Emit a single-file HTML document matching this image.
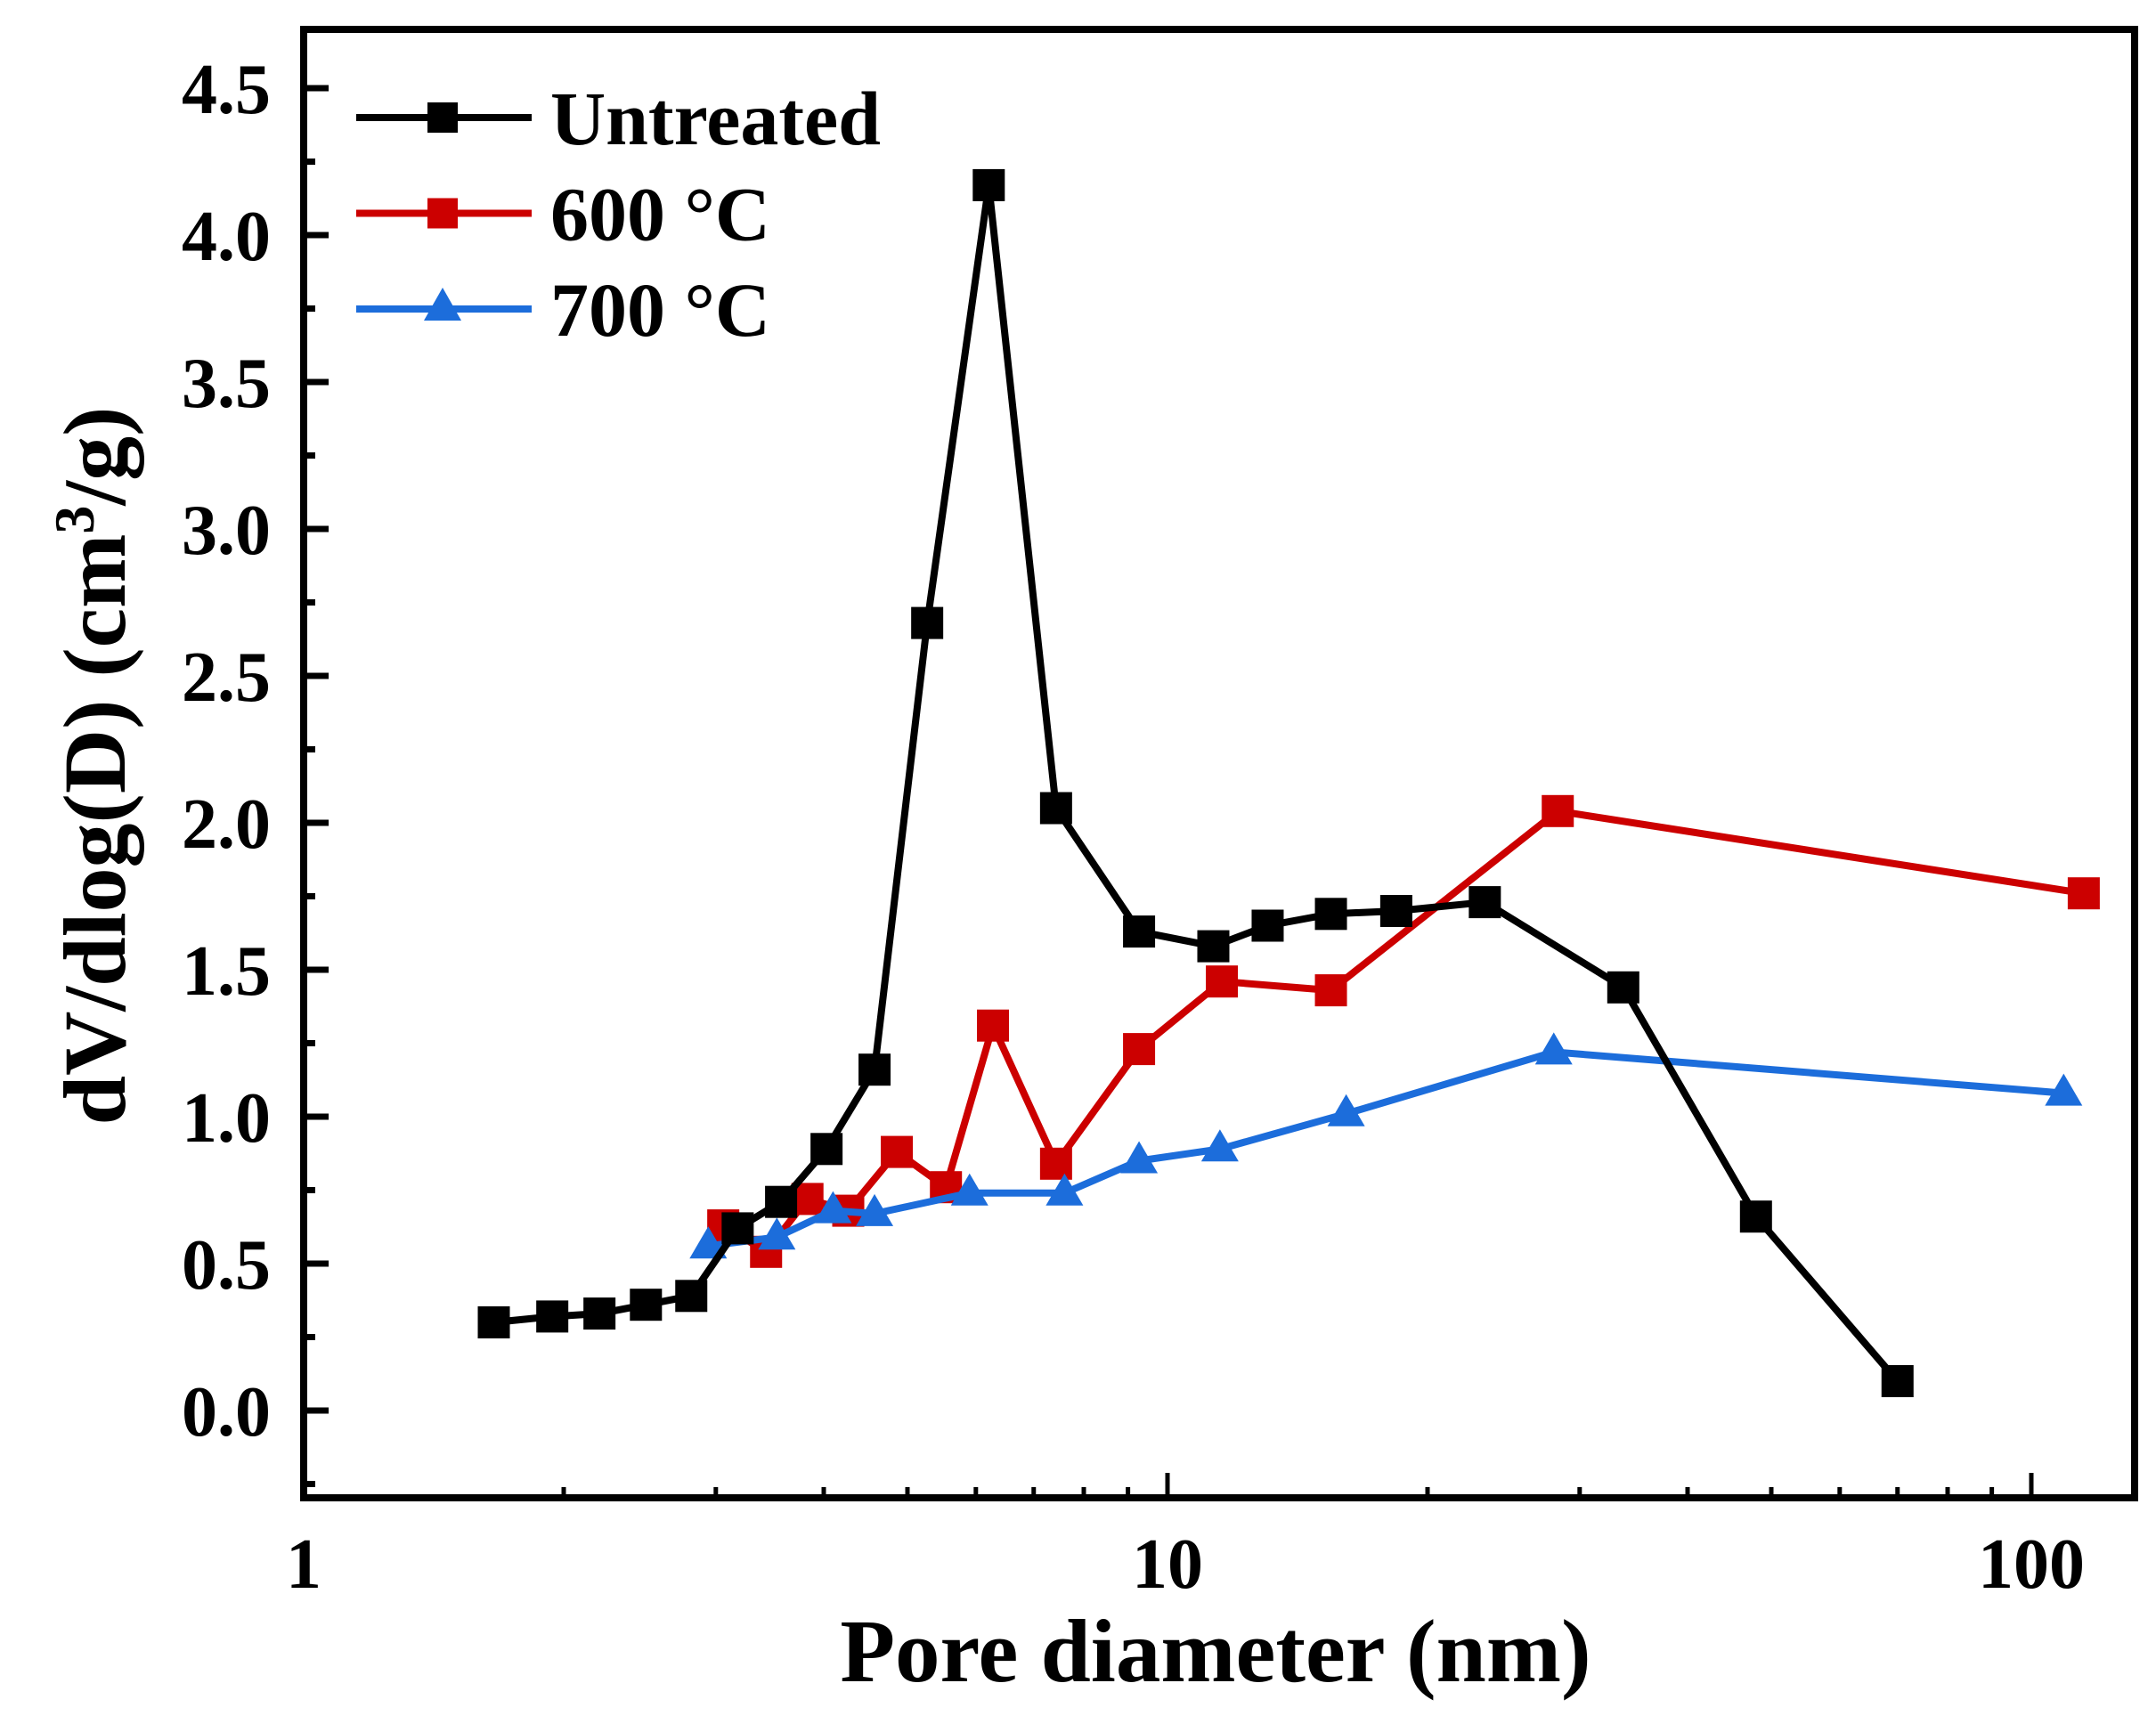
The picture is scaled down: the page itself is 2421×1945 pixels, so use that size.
<!DOCTYPE html>
<html><head><meta charset="utf-8">
<style>
html,body{margin:0;padding:0;background:#fff;}
svg{display:block;}
text{font-family:"Liberation Serif",serif;font-weight:bold;fill:#000;}
</style></head>
<body>
<svg id="chart" width="2421" height="1945" viewBox="0 0 2421 1945" xmlns="http://www.w3.org/2000/svg">
<rect x="0" y="0" width="2421" height="1945" fill="#fff"/>
<g id="plot"></g>
<g id="axes"></g>
<text x="1365" y="1888" font-size="101" text-anchor="middle">Pore diameter (nm)</text>
<text transform="translate(140,860) rotate(-90)" font-size="100" text-anchor="middle">dV/dlog(D) (cm<tspan baseline-shift="super" font-size="64">3</tspan>/g)</text>
<g id="legend"></g>
</svg>
<script>
const untreatedX=[1.66,1.94,2.20,2.49,2.81,3.18,3.57,4.03,4.58,5.27,6.21,7.43,9.27,11.3,13.06,15.46,18.4,23.3,33.7,48.0,70.0];
const untreatedY=[0.30,0.32,0.33,0.36,0.39,0.62,0.71,0.89,1.16,2.68,4.17,2.05,1.63,1.58,1.65,1.69,1.70,1.73,1.44,0.66,0.10];
const c600X=[3.06,3.43,3.83,4.27,4.86,5.54,6.28,7.43,9.27,11.56,15.46,28.3,115];
const c600Y=[0.63,0.54,0.72,0.68,0.88,0.76,1.31,0.84,1.23,1.46,1.43,2.04,1.76];
const c700X=[2.94,3.53,4.10,4.58,5.90,7.60,9.27,11.5,16.1,28.0,109];
const c700Y=[0.56,0.59,0.68,0.67,0.74,0.74,0.85,0.89,1.01,1.22,1.08];
const yTicks=[0.0,0.5,1.0,1.5,2.0,2.5,3.0,3.5,4.0,4.5];
const yTickLabels=["0.0","0.5","1.0","1.5","2.0","2.5","3.0","3.5","4.0","4.5"];
const xTicks=[1,10,100];
const xTickLabels=["1","10","100"];
const seriesNames=["Untreated","600 °C","700 °C"];

const NS="http://www.w3.org/2000/svg";
const L=341,R=2397,T=33,B=1682;
const X0=341,DEC=970;
const Y0=1584,YU=330;
function sx(v){return X0+Math.log10(v)*DEC;}
function sy(v){return Y0-v*YU;}
function mk(tag,attrs,parent){const e=document.createElementNS(NS,tag);for(const k in attrs)e.setAttribute(k,attrs[k]);parent.appendChild(e);return e;}

const axes=document.getElementById('axes');
const plot=document.getElementById('plot');
const legend=document.getElementById('legend');

for(let v=-0.25;v<=4.75;v+=0.25){
  const y=sy(v); if(y<T+5||y>B-5)continue;
  const major=Math.abs(v*2-Math.round(v*2))<1e-6;
  const t=mk('line',{x1:L,x2:L+(major?28:13),y1:y,y2:y,stroke:'#000','stroke-width':7},axes);
  
  
}
yTicks.forEach((v,i)=>{
  const t=mk('text',{x:304,y:sy(v)+28,'font-size':80,'text-anchor':'end'},axes);
  t.textContent=yTickLabels[i];
  
  
});
for(let d=1;d<=100;d*=10){
  for(let m=1;m<10;m++){
    const v=d*m; const x=sx(v); if(x<=L+2||x>=R-2)continue;
    const major=(m===1);
    const t=mk('line',{x1:x,x2:x,y1:B,y2:B-(major?28:12),stroke:'#000','stroke-width':5},axes);
    
    
  }
}
xTicks.forEach((v,i)=>{
  const t=mk('text',{x:sx(v),y:1783,'font-size':80,'text-anchor':'middle'},axes);
  t.textContent=xTickLabels[i];
  
  
});
const frame=mk('rect',{x:L,y:T,width:R-L,height:B-T,fill:'none',stroke:'#000','stroke-width':8},axes);



function drawSeries(xs,ys,color,marker,name){
  const g=mk('g',{},plot);
  
  
  const pts=xs.map((x,i)=>sx(x)+','+sy(ys[i])).join(' ');
  const pl=mk('polyline',{points:pts,fill:'none',stroke:color,'stroke-width':8,'stroke-linejoin':'miter'},g);
  
  
  xs.forEach((x,i)=>{
    const cx=sx(x),cy=sy(ys[i]);
    let m;
    if(marker==='square') m=mk('rect',{x:cx-18,y:cy-18,width:36,height:36,fill:color},g);
    else m=mk('polygon',{points:`${cx},${cy-22} ${cx-21},${cy+14} ${cx+21},${cy+14}`,fill:color},g);
    
    
  });
}
drawSeries(c600X,c600Y,'#cc0000','square','600c');
drawSeries(c700X,c700Y,'#1c6ddb','triangle','700c');
drawSeries(untreatedX,untreatedY,'#000','square','untreated');

const legColors=['#000','#cc0000','#1c6ddb'];
const legMarkers=['square','square','triangle'];
seriesNames.forEach((n,i)=>{
  const y=132+i*107.5;
  const g=mk('g',{},legend);
  
  
  mk('line',{x1:400,x2:597,y1:y,y2:y,stroke:legColors[i],'stroke-width':8},g);
  if(legMarkers[i]==='square') mk('rect',{x:480,y:y-17,width:34,height:34,fill:legColors[i]},g);
  else mk('polygon',{points:`497,${y-24} 476,${y+13} 518,${y+13}`,fill:legColors[i]},g);
  const t=mk('text',{x:618,y:y+30,'font-size':86},g);
  t.textContent=n;
  
  
});
</script>
</body></html>
